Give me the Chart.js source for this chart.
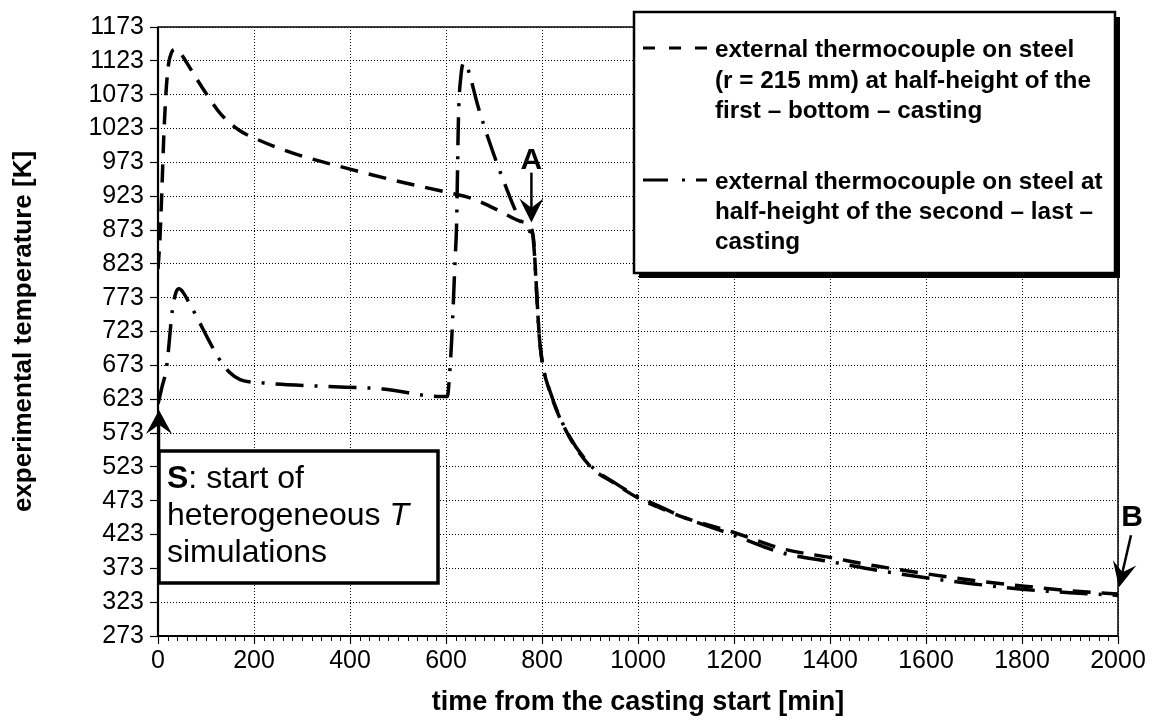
<!DOCTYPE html>
<html><head><meta charset="utf-8">
<script src="https://cdn.jsdelivr.net/npm/chart.js@4"></script>
<style>html,body{margin:0;padding:0;background:#fff;}#wrap{width:1162px;height:722px;}</style>
</head><body><div id="wrap"><canvas id="c" width="1162" height="722"></canvas></div>
<script>
// ---- data ----
const firstTime = [0, 4, 8, 12, 17, 22, 28, 35, 45, 60, 80, 100, 130, 170, 200, 275, 400, 500, 600, 656, 706, 754, 778, 783, 788, 794, 800, 817, 851, 900, 950, 1000, 1040, 1100, 1200, 1300, 1400, 1500, 1600, 1700, 1800, 1900, 2000];
const firstTemp = [815, 860, 930, 1010, 1080, 1118, 1135, 1140, 1136, 1120, 1097, 1075, 1045, 1020, 1009, 988, 963, 945, 929, 919, 903, 886, 875, 855, 790, 720, 680, 633, 575, 524, 499, 477, 464, 447, 426, 402, 389, 376, 365, 355, 347, 340, 335];
const secondTime = [0, 8, 18, 30, 37, 44, 52, 63, 84, 105, 126, 150, 171, 219, 344, 469, 587, 603, 607, 612, 619, 622, 626, 631, 637, 642, 650, 665, 692, 723, 754, 770, 780, 784, 789, 794, 800, 817, 851, 900, 950, 1000, 1040, 1100, 1200, 1300, 1400, 1500, 1600, 1700, 1800, 1900, 2000];
const secondTemp = [616, 640, 671, 755, 780, 786, 781, 768, 740, 711, 684, 662, 652, 647, 642, 638, 627, 627, 655, 713, 830, 880, 1040, 1100, 1120, 1118, 1101, 1060, 1000, 940, 888, 872, 868, 840, 780, 718, 680, 634, 576, 526, 500, 479, 466, 447, 422, 396, 383, 370, 359, 350, 342, 337, 333];
const xMin = 0, xMax = 2000, xStep = 200, xMinorStep = 20;
const yMin = 273, yMax = 1173, yStep = 50;
const seriesNames = [
  ['external thermocouple on steel', '(r = 215 mm) at half-height of the', 'first \u2013 bottom \u2013 casting'],
  ['external thermocouple on steel at', 'half-height of the second \u2013 last \u2013', 'casting']
];
const xTitle = 'time from the casting start [min]';
const yTitle = 'experimental temperature [K]';
// annotation anchors in data units
const markS = {x: 0, tip: 607, label: ['start of', 'heterogeneous ', 'simulations']};
const markA = {x: 780, tip: 884, top: 977};
const markB = {x: 2000, tip: 345};

const toXY = (xs, ys) => xs.map((v, i) => ({x: v, y: ys[i]}));
const FONT = "'Liberation Sans', Arial, Helvetica, sans-serif";
Chart.defaults.color = '#000';
Chart.defaults.font.family = FONT;

const extras = {
  id: 'extras',
  afterDraw(chart) {
    const {ctx, chartArea: a, scales: {x, y}} = chart;
    ctx.save();
    // minor x ticks
    ctx.strokeStyle = '#000'; ctx.lineWidth = 1; ctx.setLineDash([]);
    ctx.beginPath();
    for (let i = 1; i < (xMax - xMin) / xMinorStep; i++) {
      const v = xMin + i * xMinorStep;
      if (i % (xStep / xMinorStep) === 0) continue;
      const px = Math.round(x.getPixelForValue(v)) + 0.5;
      ctx.moveTo(px, a.bottom); ctx.lineTo(px, a.bottom + 5);
    }
    ctx.stroke();
    // frame
    ctx.lineWidth = 1.5;
    ctx.strokeRect(a.left, a.top, a.right - a.left, a.bottom - a.top);
    ctx.lineWidth = 2.2;
    ctx.beginPath();
    ctx.moveTo(a.left, a.top); ctx.lineTo(a.left, a.bottom); ctx.lineTo(a.right, a.bottom);
    ctx.stroke();

    function arrowHead(tx, ty, ang, len, half) {
      const bx = tx - Math.cos(ang) * len, by = ty - Math.sin(ang) * len;
      const nx = -Math.sin(ang), ny = Math.cos(ang);
      const ix = tx - Math.cos(ang) * len * 0.62, iy = ty - Math.sin(ang) * len * 0.62;
      ctx.beginPath();
      ctx.moveTo(tx, ty);
      ctx.lineTo(bx + nx * half, by + ny * half);
      ctx.lineTo(ix, iy);
      ctx.lineTo(bx - nx * half, by - ny * half);
      ctx.closePath();
      ctx.fill();
    }
    ctx.fillStyle = '#000'; ctx.strokeStyle = '#000';

    // S box
    const sx = x.getPixelForValue(markS.x) + 1;
    const sTip = y.getPixelForValue(markS.tip);
    const box = {l: 159, t: 451, r: 438, b: 583};
    ctx.lineWidth = 2.5;
    ctx.beginPath(); ctx.moveTo(sx, box.t); ctx.lineTo(sx, sTip + 12); ctx.stroke();
    arrowHead(sx, sTip, -Math.PI / 2, 24, 13);
    ctx.fillStyle = '#fff';
    ctx.fillRect(box.l, box.t, box.r - box.l, box.b - box.t);
    ctx.lineWidth = 3.5;
    ctx.strokeRect(box.l, box.t, box.r - box.l, box.b - box.t);
    ctx.fillStyle = '#000';
    ctx.textBaseline = 'alphabetic'; ctx.textAlign = 'left';
    ctx.font = 'bold 32px ' + FONT;
    ctx.fillText('S', 167, 488);
    let w = ctx.measureText('S').width;
    ctx.font = '32px ' + FONT;
    ctx.fillText(': ' + markS.label[0], 167 + w, 488);
    ctx.fillText(markS.label[1], 167, 525);
    w = ctx.measureText(markS.label[1]).width;
    ctx.font = 'italic 32px ' + FONT;
    ctx.fillText('T', 167 + w, 525);
    ctx.font = '32px ' + FONT;
    ctx.fillText(markS.label[2], 167, 562);

    // A arrow
    const ax = x.getPixelForValue(markA.x) - 1;
    const aTip = y.getPixelForValue(markA.tip);
    const aTop = y.getPixelForValue(markA.top);
    ctx.lineWidth = 2.5;
    ctx.beginPath(); ctx.moveTo(ax, aTop + 13); ctx.lineTo(ax, aTip - 12); ctx.stroke();
    arrowHead(ax, aTip, Math.PI / 2, 24, 12);
    ctx.font = 'bold 30px ' + FONT; ctx.textAlign = 'center'; ctx.textBaseline = 'middle';
    ctx.fillText('A', ax, aTop + 1);

    // B arrow
    const bxp = x.getPixelForValue(markB.x) + 1;
    const bTip = y.getPixelForValue(markB.tip);
    const bStart = {x: bxp + 12, y: bTip - 52};
    const ang = Math.atan2(bTip - bStart.y, bxp - bStart.x);
    ctx.beginPath(); ctx.moveTo(bStart.x, bStart.y);
    ctx.lineTo(bxp - Math.cos(ang) * 12, bTip - Math.sin(ang) * 12); ctx.stroke();
    arrowHead(bxp, bTip, ang, 25, 12);
    ctx.fillText('B', bxp + 13, bTip - 70);

    // legend box with shadow
    const L = {l: 634, t: 12, r: 1115, b: 273};
    ctx.fillStyle = '#000';
    ctx.fillRect(L.l + 5, L.t + 5, L.r - L.l, L.b - L.t);
    ctx.fillStyle = '#fff';
    ctx.fillRect(L.l, L.t, L.r - L.l, L.b - L.t);
    ctx.lineWidth = 2.5; ctx.strokeStyle = '#000';
    ctx.strokeRect(L.l, L.t, L.r - L.l, L.b - L.t);
    ctx.fillStyle = '#000';
    ctx.textAlign = 'left'; ctx.textBaseline = 'alphabetic';
    ctx.font = 'bold 24.3px ' + FONT;
    const base = [[57, 88, 118], [189, 219, 249]];
    seriesNames.forEach((lines, k) => {
      lines.forEach((t, j) => ctx.fillText(t, 715, base[k][j]));
    });
    ctx.lineWidth = 3; ctx.lineCap = 'butt';
    ctx.setLineDash([12, 14]);
    ctx.beginPath(); ctx.moveTo(643, 48); ctx.lineTo(707, 48); ctx.stroke();
    ctx.setLineDash([25, 14, 3, 11, 14]);
    ctx.beginPath(); ctx.moveTo(643, 180); ctx.lineTo(707, 180); ctx.stroke();
    ctx.restore();
  }
};

new Chart(document.getElementById('c'), {
  type: 'line',
  data: {
    datasets: [
      {label: seriesNames[0].join(' '), data: toXY(firstTime, firstTemp), borderColor: '#000', borderWidth: 3.5,
       borderDash: [18, 11], pointRadius: 0, fill: false, cubicInterpolationMode: 'monotone'},
      {label: seriesNames[1].join(' '), data: toXY(secondTime, secondTemp), borderColor: '#000', borderWidth: 3.5,
       borderDash: [28, 11, 3, 11], pointRadius: 0, fill: false, cubicInterpolationMode: 'monotone'}
    ]
  },
  options: {
    responsive: false, animation: false, devicePixelRatio: 1,
    layout: {padding: {left: 0, right: 44, top: 27, bottom: 0}},
    plugins: {legend: {display: false}, tooltip: {enabled: false}},
    scales: {
      x: {
        type: 'linear', min: xMin, max: xMax,
        ticks: {stepSize: xStep, font: {size: 25}, color: '#000', padding: 2, maxRotation: 0, autoSkip: false,
                callback: v => String(v)},
        grid: {color: '#000', lineWidth: 1, tickLength: 8, tickColor: '#000', tickWidth: 1.2},
        border: {display: false, dash: [1, 2]},
        title: {display: true, text: xTitle, font: {size: 27, weight: 'bold'}, color: '#000', padding: {top: 0, bottom: 3}},
        afterFit: s => { s.height = 86; }
      },
      y: {
        type: 'linear', min: yMin, max: yMax,
        ticks: {stepSize: yStep, font: {size: 25}, color: '#000', padding: 6, autoSkip: false,
                callback: v => String(v)},
        grid: {color: '#000', lineWidth: 1, tickLength: 8, tickColor: '#000', tickWidth: 1.2},
        border: {display: false, dash: [1, 2]},
        title: {display: true, text: yTitle, font: {size: 26, weight: 'bold'}, color: '#000', padding: {top: 8, bottom: 0}},
        afterFit: s => { s.width = 158; }
      }
    }
  },
  plugins: [extras]
});
</script></body></html>
